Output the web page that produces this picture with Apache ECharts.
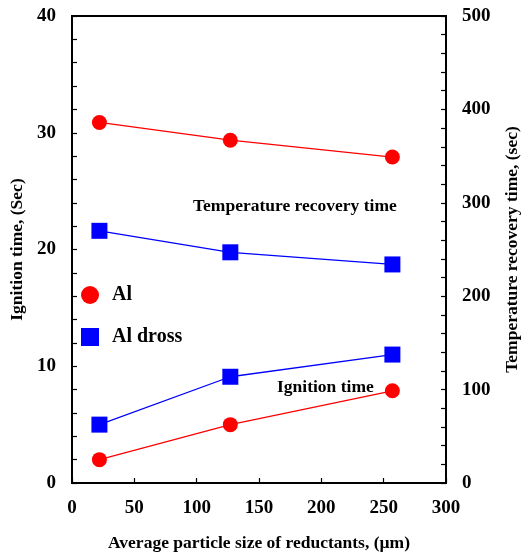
<!DOCTYPE html>
<html>
<head>
<meta charset="utf-8">
<script src="https://cdn.jsdelivr.net/npm/echarts@6/dist/echarts.min.js"></script>
<style>
  html, body { margin: 0; padding: 0; background: #fff; }
  #chart { width: 523px; height: 552px; }
</style>
</head>
<body>
<div id="chart"></div>
<script>
// Average particle size of reductants (µm)
const particleSize = [22, 127, 257];

// Ignition time (sec), left axis
const ignitionAl = [2, 5, 7.9];
const ignitionDross = [5, 9.1, 11];

// Temperature recovery time (sec), right axis
const recoveryAl = [386, 367, 349];
const recoveryDross = [270, 247, 234];

const FONT = '"Liberation Serif", "DejaVu Serif", serif';
const RED = '#ff0000';
const BLUE = '#0000ff';

function pairs(xs, ys) { return xs.map((x, i) => [x, ys[i]]); }

const chart = echarts.init(document.getElementById('chart'));

const axisLine = { show: true, lineStyle: { color: '#000', width: 2 } };
const tickLabel = { color: '#000', fontFamily: FONT, fontWeight: 'bold', fontSize: 19 };
const nameStyle = { fontFamily: FONT, fontWeight: 'bold', fontSize: 17.5, color: '#000' };
const ticks = { show: true, inside: true, length: 5, lineStyle: { color: '#000', width: 1.2 } };
const minor = { show: true, splitNumber: 5, length: 5, lineStyle: { color: '#000', width: 1.2 } };

chart.setOption({
  animation: false,
  backgroundColor: '#fff',
  grid: {
    left: 72, right: 77, top: 16, bottom: 69,
    containLabel: false, outerBoundsMode: 'none',
    show: true, borderColor: '#000', borderWidth: 2
  },
  legend: {
    left: 76, top: 280, orient: 'vertical', itemGap: 22,
    itemWidth: 18, itemHeight: 18,
    textStyle: { fontFamily: FONT, fontWeight: 'bold', fontSize: 20, color: '#000', padding: [0, 0, 0, 8] },
    data: [
      { name: 'Al', icon: 'circle' },
      { name: 'Al dross', icon: 'rect' }
    ]
  },
  xAxis: {
    type: 'value', min: 0, max: 300, interval: 50,
    axisLine: axisLine,
    axisTick: ticks,
    axisLabel: Object.assign({ margin: 16 }, tickLabel),
    splitLine: { show: false },
    name: 'Average particle size of reductants, (\u00b5m)',
    nameLocation: 'middle', nameGap: 51,
    nameTextStyle: nameStyle
  },
  yAxis: [
    {
      type: 'value', min: 0, max: 40, interval: 10, position: 'left',
      axisLine: axisLine,
      axisTick: ticks,
      minorTick: minor,
      axisLabel: Object.assign({ margin: 16 }, tickLabel),
      splitLine: { show: false },
      name: 'Ignition time, (Sec)',
      nameLocation: 'middle', nameGap: 46, nameRotate: 90,
      nameTextStyle: nameStyle
    },
    {
      type: 'value', min: 0, max: 500, interval: 100, position: 'right',
      axisLine: axisLine,
      axisTick: ticks,
      minorTick: minor,
      axisLabel: Object.assign({ margin: 16 }, tickLabel),
      splitLine: { show: false },
      name: 'Temperature recovery time, (sec)',
      nameLocation: 'middle', nameGap: 57, nameRotate: 90,
      nameTextStyle: nameStyle
    }
  ],
  series: [
    {
      name: 'Al', type: 'line', yAxisIndex: 1, data: pairs(particleSize, recoveryAl),
      symbol: 'circle', symbolSize: 15,
      itemStyle: { color: RED }, lineStyle: { color: RED, width: 1.3 }
    },
    {
      name: 'Al dross', type: 'line', yAxisIndex: 1, data: pairs(particleSize, recoveryDross),
      symbol: 'rect', symbolSize: 16,
      itemStyle: { color: BLUE }, lineStyle: { color: BLUE, width: 1.3 }
    },
    {
      name: 'Al', type: 'line', yAxisIndex: 0, data: pairs(particleSize, ignitionAl),
      symbol: 'circle', symbolSize: 15,
      itemStyle: { color: RED }, lineStyle: { color: RED, width: 1.3 }
    },
    {
      name: 'Al dross', type: 'line', yAxisIndex: 0, data: pairs(particleSize, ignitionDross),
      symbol: 'rect', symbolSize: 16,
      itemStyle: { color: BLUE }, lineStyle: { color: BLUE, width: 1.3 }
    }
  ],
  graphic: [
    {
      type: 'text', left: 193, top: 197,
      style: { text: 'Temperature recovery time', fontFamily: FONT, fontWeight: 'bold', fontSize: 17.5, fill: '#000' }
    },
    {
      type: 'text', left: 277, top: 378,
      style: { text: 'Ignition time', fontFamily: FONT, fontWeight: 'bold', fontSize: 17.5, fill: '#000' }
    }
  ]
});
</script>
</body>
</html>
